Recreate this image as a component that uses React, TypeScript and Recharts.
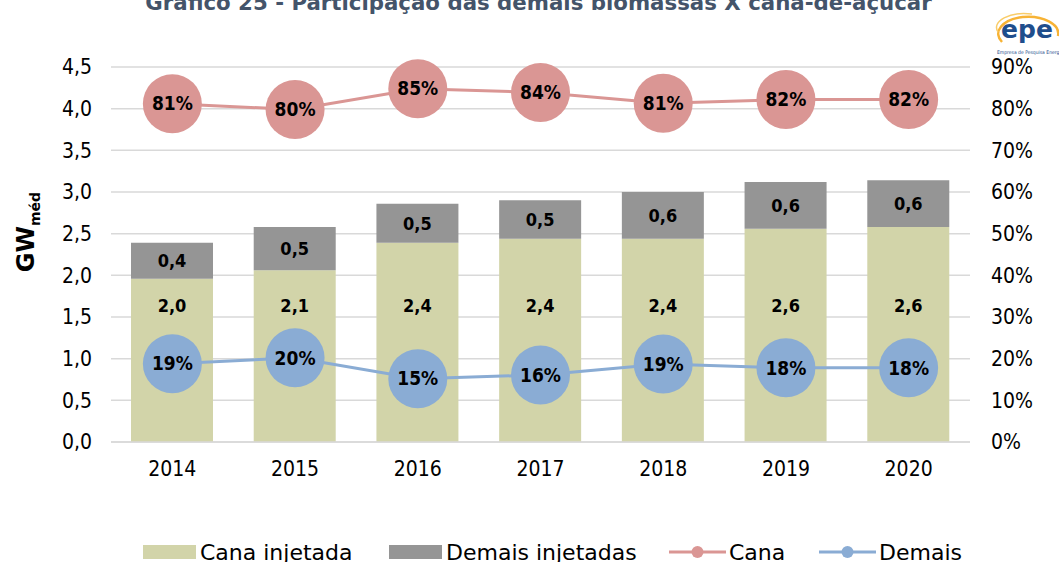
import React from 'react';
import { ComposedChart, Bar, Line, XAxis, YAxis, CartesianGrid, LabelList, Label } from 'recharts';

const years = ['2014', '2015', '2016', '2017', '2018', '2019', '2020'];
const canaInjetada = [1.96, 2.06, 2.39, 2.44, 2.44, 2.56, 2.58];
const demaisInjetadas = [0.43, 0.52, 0.47, 0.46, 0.56, 0.56, 0.56];
const canaShare = [81.2, 79.8, 84.8, 83.9, 81.3, 82.2, 82.2];
const demaisShare = [18.8, 20.2, 15.2, 16.1, 18.7, 17.8, 17.8];
const leftTicks = [0, 0.5, 1, 1.5, 2, 2.5, 3, 3.5, 4, 4.5];
const rightTicks = [0, 10, 20, 30, 40, 50, 60, 70, 80, 90];

const data = years.map((y, i) => ({
  year: y,
  canaInj: canaInjetada[i],
  demaisInj: demaisInjetadas[i],
  cana: canaShare[i],
  demais: demaisShare[i],
}));

const FONT = '"DejaVu Sans Condensed", "DejaVu Sans", Tahoma, sans-serif';
const FONT_WIDE = '"DejaVu Sans", Tahoma, sans-serif';
const C_CANA_BAR = '#D2D4A9';
const C_DEMAIS_BAR = '#959595';
const C_CANA_LINE = '#DA9694';
const C_DEMAIS_LINE = '#8AACD4';

const fmt1 = (v: number) => v.toFixed(1).replace('.', ',');

const CanaBarLabel = (props: any) => {
  const { x, y, width, height, value } = props;
  return (
    <text
      x={x + width / 2}
      y={y + height - 137}
      textAnchor="middle"
      dominantBaseline="central"
      fontFamily={FONT}
      fontWeight="bold"
      fontSize={18}
      fill="#000"
    >
      {fmt1(value)}
    </text>
  );
};

const YLabel = () => {
  const cx = 34;
  const cy = 232;
  return (
    <text
      x={cx}
      y={cy}
      transform={`rotate(-90 ${cx} ${cy})`}
      textAnchor="middle"
      fontFamily={FONT_WIDE}
      fontWeight="bold"
      fill="#000"
    >
      <tspan fontSize={24}>GW</tspan>
      <tspan fontSize={14} dy={6}>méd</tspan>
    </text>
  );
};

const LegendItem = ({ left, kind, color, label }: any) => (
  <div style={{ position: 'absolute', left, top: 539, height: 26, display: 'flex', alignItems: 'center', whiteSpace: 'nowrap' }}>
    {kind === 'bar' ? (
      <div style={{ width: 53, height: 14, background: color, marginRight: 4 }} />
    ) : (
      <svg width={57} height={16} style={{ marginRight: 3 }}>
        <line x1={0} y1={8} x2={57} y2={8} stroke={color} strokeWidth={3} />
        <circle cx={28.5} cy={8} r={6} fill={color} />
      </svg>
    )}
    <span style={{ fontFamily: FONT_WIDE, fontSize: 22, color: '#000' }}>{label}</span>
  </div>
);

export default function App() {
  return (
    <div style={{ position: 'fixed', left: 0, top: 0, width: 1059, height: 562, background: '#fff', overflow: 'hidden' }}>
      <div
        style={{
          position: 'absolute',
          left: 9,
          width: 1059,
          top: -10,
          textAlign: 'center',
          fontFamily: FONT_WIDE,
          fontWeight: 'bold',
          fontSize: 21.3,
          color: '#44546A',
          whiteSpace: 'nowrap',
        }}
      >
        Gráfico 25 - Participação das demais biomassas X cana-de-açúcar
      </div>
      <svg style={{ position: 'absolute', left: 992, top: 8 }} width={67} height={50}>
        <path d="M 10 34 A 30 17 0 1 1 66 28" fill="none" stroke="#F7B335" strokeWidth={2.5} />
        <path d="M 6 24 A 28 14 0 0 1 40 6" fill="none" stroke="#F9CD6A" strokeWidth={1.5} />
        <text x={35} y={30} textAnchor="middle" fontFamily={FONT_WIDE} fontWeight="bold" fontSize={25} fill="#1F4E8C">epe</text>
        <text x={5} y={46} fontFamily={FONT} fontSize={5} fill="#1F4E8C">Empresa de Pesquisa Energética</text>
      </svg>
      <ComposedChart
        width={1059}
        height={562}
        data={data}
        margin={{ top: 67, right: 0, bottom: 90, left: 0 }}
        style={{ position: 'absolute', left: 0, top: 0 }}
      >
        <CartesianGrid vertical={false} stroke="#D9D9D9" strokeWidth={1.5} yAxisId="left" />
        <XAxis
          dataKey="year"
          height={30}
          tickLine={false}
          tickSize={0}
          tickMargin={19}
          axisLine={{ stroke: '#D9D9D9', strokeWidth: 1.5 }}
          tick={{ fontFamily: FONT, fontSize: 21, fill: '#000' }}
        />
        <YAxis
          yAxisId="left"
          width={111}
          domain={[0, 4.5]}
          ticks={leftTicks}
          tickFormatter={fmt1}
          tickLine={false}
          axisLine={false}
          tickSize={0}
          tickMargin={19}
          tick={{ fontFamily: FONT, fontSize: 21, fill: '#000' }}
        >
          <Label content={<YLabel />} />
        </YAxis>
        <YAxis
          yAxisId="right"
          orientation="right"
          width={89}
          domain={[0, 90]}
          ticks={rightTicks}
          tickFormatter={(v: number) => `${v}%`}
          tickLine={false}
          axisLine={false}
          tickSize={0}
          tickMargin={21}
          tick={{ fontFamily: FONT, fontSize: 21, fill: '#000', textAnchor: 'start' }}
        />
        <Bar yAxisId="left" dataKey="canaInj" stackId="a" fill={C_CANA_BAR} barSize={82} isAnimationActive={false}>
          <LabelList dataKey="canaInj" content={<CanaBarLabel />} />
        </Bar>
        <Bar yAxisId="left" dataKey="demaisInj" stackId="a" fill={C_DEMAIS_BAR} barSize={82} isAnimationActive={false}>
          <LabelList
            dataKey="demaisInj"
            position="center"
            formatter={(v: any) => fmt1(Number(v))}
            style={{ fontFamily: FONT, fontWeight: 'bold', fontSize: 18, fill: '#000' }}
          />
        </Bar>
        <Line
          yAxisId="right"
          dataKey="cana"
          stroke={C_CANA_LINE}
          strokeWidth={3}
          dot={{ r: 29.5, fill: C_CANA_LINE, stroke: 'none', strokeWidth: 0 }}
          activeDot={false}
          isAnimationActive={false}
        >
          <LabelList
            dataKey="cana"
            position="center"
            formatter={(v: any) => `${Math.round(Number(v))}%`}
            style={{ fontFamily: FONT, fontWeight: 'bold', fontSize: 19, fill: '#000' }}
          />
        </Line>
        <Line
          yAxisId="right"
          dataKey="demais"
          stroke={C_DEMAIS_LINE}
          strokeWidth={3}
          dot={{ r: 29.5, fill: C_DEMAIS_LINE, stroke: 'none', strokeWidth: 0 }}
          activeDot={false}
          isAnimationActive={false}
        >
          <LabelList
            dataKey="demais"
            position="center"
            formatter={(v: any) => `${Math.round(Number(v))}%`}
            style={{ fontFamily: FONT, fontWeight: 'bold', fontSize: 19, fill: '#000' }}
          />
        </Line>
      </ComposedChart>
      <LegendItem left={143} kind="bar" color={C_CANA_BAR} label="Cana injetada" />
      <LegendItem left={389} kind="bar" color={C_DEMAIS_BAR} label="Demais injetadas" />
      <LegendItem left={669} kind="line" color={C_CANA_LINE} label="Cana" />
      <LegendItem left={819} kind="line" color={C_DEMAIS_LINE} label="Demais" />
    </div>
  );
}
